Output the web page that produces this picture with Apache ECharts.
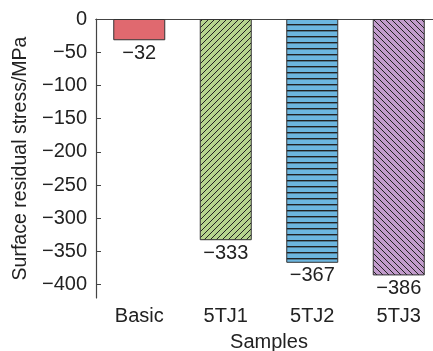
<!DOCTYPE html>
<html><head><meta charset="utf-8">
<script src="https://cdn.jsdelivr.net/npm/echarts@6/dist/echarts.min.js"></script>
<style>html,body{margin:0;padding:0;background:#fff}#c{width:433px;height:351px}</style>
</head><body><div id="c"></div>
<script>
var categories = ['Basic', '5TJ1', '5TJ2', '5TJ3'];
var values = [-32, -333, -367, -386];
var yTicks = [0, -50, -100, -150, -200, -250, -300, -350, -400];

function pattern(bg, kind) {
  var s = 6;
  var c = document.createElement('canvas');
  c.width = s; c.height = s;
  var g = c.getContext('2d');
  g.fillStyle = bg; g.fillRect(0, 0, s, s);
  g.strokeStyle = '#222'; g.lineWidth = 1;
  g.beginPath();
  if (kind === 'h') {
    g.lineWidth = 1.4;
    g.moveTo(0, 0.7); g.lineTo(s, 0.7);
  } else if (kind === '/') {
    g.moveTo(0, s); g.lineTo(s, 0);
    g.moveTo(-1, 1); g.lineTo(1, -1);
    g.moveTo(s - 1, s + 1); g.lineTo(s + 1, s - 1);
  } else if (kind === '\\') {
    g.moveTo(0, 0); g.lineTo(s, s);
    g.moveTo(-1, s - 1); g.lineTo(1, s + 1);
    g.moveTo(s - 1, -1); g.lineTo(s + 1, 1);
  }
  g.stroke();
  return { image: c, repeat: 'repeat' };
}

var fills = [
  '#e0696f',
  pattern('#b6d48e', '/'),
  pattern('#6cb6df', 'h'),
  pattern('#c29ccc', '\\')
];

function fmt(v) { return String(v).replace('-', '\u2212'); }

var chart = echarts.init(document.getElementById('c'));
var font = 'Liberation Sans, Arial, sans-serif';
chart.setOption({
  animation: false,
  grid: { left: 96, top: 19, bottom: 53, right: -9, outerBoundsMode: 'none', containLabel: false },
  xAxis: [{
    type: 'category', data: categories,
    axisLine: { lineStyle: { color: '#444', width: 1.2 } },
    axisTick: { inside: true, length: 4, alignWithLabel: true, lineStyle: { color: '#444' } },
    axisLabel: { color: '#222', fontSize: 20, fontFamily: font, margin: 8 },
    name: 'Samples', nameLocation: 'middle', nameGap: 34,
    nameTextStyle: { color: '#222', fontSize: 20, fontFamily: font }
  }, {
    type: 'category', data: categories, position: 'top',
    axisLine: { lineStyle: { color: '#444', width: 1.2 } },
    axisTick: { show: false }, axisLabel: { show: false }
  }],
  yAxis: {
    type: 'value', min: -420, max: 0,
    axisLine: { show: true, lineStyle: { color: '#444', width: 1.2 } },
    axisTick: { show: true, inside: true, length: 5, customValues: yTicks, lineStyle: { color: '#444' } },
    splitLine: { show: false },
    axisLabel: {
      color: '#222', fontSize: 20, fontFamily: font, margin: 9,
      customValues: yTicks,
      formatter: function (v) { return fmt(v); }
    },
    name: 'Surface residual stress/MPa', nameLocation: 'middle', nameGap: 63,
    nameTextStyle: { color: '#222', fontSize: 19.5, fontFamily: font }
  },
  series: [{
    type: 'bar', barWidth: 52,
    data: values.map(function (v, i) {
      return { value: v, itemStyle: { color: fills[i] } };
    }),
    itemStyle: { borderColor: '#333', borderWidth: 1 },
    label: {
      show: true, position: 'bottom', distance: 3,
      color: '#222', fontSize: 20, fontFamily: font,
      formatter: function (p) { return fmt(p.value); }
    }
  }]
});
</script></body></html>
